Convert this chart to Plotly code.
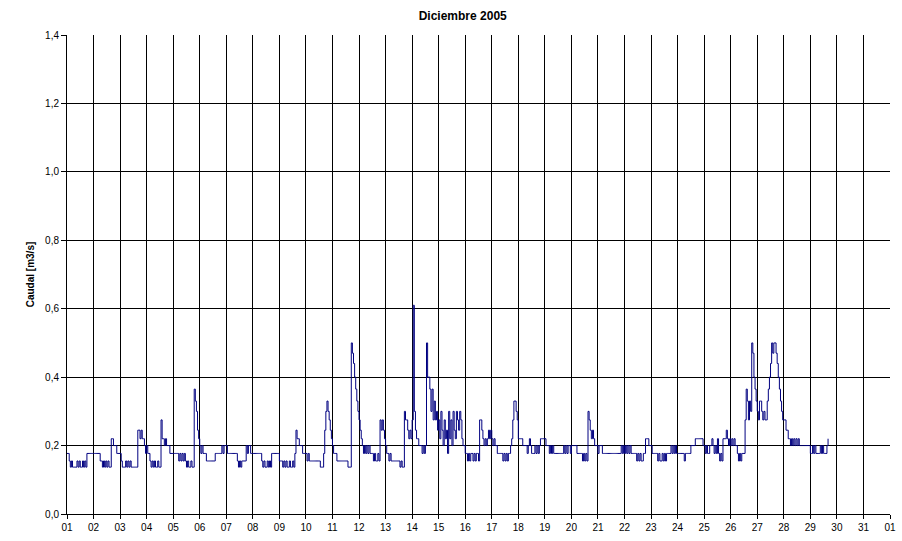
import plotly.graph_objects as go

# Hourly discharge readings (m3/s), December 2005, one list per day (hour 0..23)
d01 = [0.177,0.177,0.155,0.137,0.155,0.137,0.137,0.137,0.137,0.155,0.137,0.155,0.137,0.137,0.155,0.137,0.155,0.137,0.177,0.177,0.177,0.177,0.177,0.177]
d02 = [0.177,0.177,0.177,0.177,0.177,0.177,0.155,0.155,0.137,0.155,0.137,0.155,0.137,0.155,0.137,0.137,0.22,0.22,0.2,0.2,0.2,0.177,0.177,0.177]
d03 = [0.177,0.155,0.137,0.137,0.137,0.155,0.137,0.155,0.137,0.155,0.137,0.137,0.137,0.137,0.137,0.137,0.245,0.245,0.22,0.245,0.22,0.22,0.2,0.177]
d04 = [0.2,0.177,0.177,0.155,0.137,0.155,0.137,0.155,0.137,0.137,0.155,0.137,0.137,0.275,0.22,0.22,0.2,0.22,0.2,0.2,0.2,0.177,0.177,0.177]
d05 = [0.177,0.177,0.177,0.177,0.177,0.155,0.177,0.155,0.177,0.155,0.177,0.155,0.137,0.155,0.137,0.137,0.155,0.137,0.137,0.365,0.33,0.3,0.245,0.22]
d06 = [0.2,0.177,0.2,0.177,0.177,0.177,0.155,0.155,0.155,0.155,0.155,0.155,0.155,0.155,0.177,0.177,0.177,0.177,0.177,0.177,0.2,0.177,0.2,0.2]
d07 = [0.2,0.177,0.177,0.177,0.177,0.177,0.177,0.177,0.177,0.177,0.155,0.137,0.155,0.137,0.155,0.155,0.155,0.155,0.2,0.177,0.2,0.2,0.177,0.177]
d08 = [0.177,0.177,0.177,0.177,0.177,0.177,0.177,0.177,0.155,0.137,0.155,0.137,0.137,0.155,0.137,0.155,0.137,0.177,0.177,0.177,0.177,0.177,0.177,0.177]
d09 = [0.155,0.155,0.155,0.137,0.155,0.137,0.155,0.137,0.137,0.155,0.137,0.137,0.155,0.137,0.177,0.245,0.22,0.22,0.2,0.2,0.2,0.177,0.177,0.177]
d10 = [0.177,0.155,0.177,0.155,0.155,0.155,0.155,0.155,0.155,0.155,0.155,0.155,0.155,0.137,0.137,0.137,0.177,0.245,0.3,0.33,0.3,0.275,0.245,0.22]
d11 = [0.2,0.177,0.177,0.177,0.155,0.155,0.155,0.155,0.155,0.155,0.155,0.155,0.155,0.155,0.137,0.137,0.137,0.5,0.47,0.44,0.4,0.365,0.33,0.3]
d12 = [0.275,0.245,0.22,0.2,0.177,0.2,0.177,0.2,0.177,0.2,0.177,0.177,0.177,0.155,0.177,0.155,0.155,0.177,0.155,0.275,0.245,0.275,0.245,0.22]
d13 = [0.2,0.177,0.177,0.155,0.177,0.155,0.155,0.155,0.155,0.155,0.155,0.155,0.155,0.137,0.155,0.137,0.137,0.3,0.275,0.275,0.245,0.22,0.245,0.22]
d14 = [0.275,0.61,0.3,0.245,0.22,0.22,0.2,0.2,0.2,0.177,0.2,0.177,0.2,0.5,0.4,0.4,0.365,0.3,0.365,0.275,0.33,0.275,0.3,0.245]
d15 = [0.275,0.22,0.3,0.245,0.2,0.275,0.22,0.245,0.177,0.3,0.22,0.275,0.2,0.3,0.245,0.22,0.3,0.275,0.245,0.3,0.275,0.22,0.2,0.2]
d16 = [0.177,0.177,0.155,0.177,0.155,0.177,0.177,0.155,0.177,0.155,0.177,0.177,0.155,0.275,0.275,0.245,0.22,0.2,0.22,0.2,0.22,0.245,0.22,0.245]
d17 = [0.22,0.2,0.22,0.2,0.2,0.177,0.177,0.177,0.177,0.177,0.155,0.177,0.155,0.177,0.155,0.177,0.177,0.2,0.22,0.275,0.33,0.33,0.3,0.275]
d18 = [0.22,0.22,0.22,0.22,0.2,0.2,0.2,0.2,0.177,0.2,0.22,0.2,0.177,0.177,0.177,0.2,0.177,0.2,0.177,0.2,0.22,0.22,0.22,0.22]
d19 = [0.22,0.2,0.2,0.2,0.177,0.2,0.177,0.2,0.177,0.177,0.177,0.177,0.177,0.177,0.177,0.177,0.177,0.2,0.177,0.2,0.177,0.2,0.2,0.177]
d20 = [0.2,0.2,0.2,0.2,0.2,0.177,0.177,0.177,0.177,0.177,0.155,0.177,0.155,0.177,0.155,0.3,0.275,0.245,0.22,0.245,0.22,0.2,0.2,0.2]
d21 = [0.177,0.2,0.2,0.2,0.177,0.177,0.177,0.177,0.177,0.177,0.177,0.177,0.177,0.177,0.177,0.177,0.177,0.177,0.177,0.177,0.177,0.2,0.177,0.2]
d22 = [0.177,0.2,0.177,0.2,0.177,0.2,0.177,0.177,0.177,0.177,0.177,0.155,0.177,0.155,0.177,0.155,0.155,0.177,0.177,0.22,0.22,0.22,0.2,0.2]
d23 = [0.2,0.177,0.177,0.177,0.177,0.177,0.155,0.177,0.155,0.155,0.177,0.155,0.177,0.155,0.177,0.177,0.177,0.177,0.2,0.177,0.2,0.177,0.2,0.177]
d24 = [0.177,0.177,0.177,0.177,0.177,0.177,0.155,0.177,0.177,0.177,0.177,0.177,0.2,0.2,0.2,0.2,0.22,0.22,0.22,0.22,0.22,0.22,0.22,0.2]
d25 = [0.2,0.177,0.2,0.177,0.177,0.2,0.2,0.22,0.2,0.177,0.2,0.177,0.22,0.177,0.155,0.177,0.155,0.22,0.22,0.22,0.245,0.22,0.2,0.22]
d26 = [0.2,0.22,0.2,0.22,0.2,0.2,0.177,0.155,0.177,0.155,0.177,0.177,0.177,0.275,0.365,0.33,0.275,0.33,0.3,0.5,0.47,0.4,0.365,0.33]
d27 = [0.3,0.275,0.33,0.33,0.3,0.275,0.3,0.275,0.275,0.33,0.365,0.4,0.44,0.5,0.47,0.5,0.5,0.47,0.44,0.4,0.365,0.33,0.3,0.275]
d28 = [0.275,0.275,0.245,0.245,0.22,0.22,0.2,0.22,0.2,0.22,0.2,0.22,0.2,0.22,0.2,0.2,0.2,0.2,0.2,0.2,0.2,0.2,0.2,0.2]
d29 = [0.177,0.177,0.2,0.177,0.2,0.177,0.177,0.177,0.177,0.2,0.177,0.2,0.177,0.177,0.177,0.2,0.22]

days = [d01,d02,d03,d04,d05,d06,d07,d08,d09,d10,d11,d12,d13,d14,d15,
        d16,d17,d18,d19,d20,d21,d22,d23,d24,d25,d26,d27,d28,d29]

tick_labels = ["01","02","03","04","05","06","07","08","09","10","11","12","13","14","15","16",
               "17","18","19","20","21","22","23","24","25","26","27","28","29","30","31","01"]
y_ticks = [0.0,0.2,0.4,0.6,0.8,1.0,1.2,1.4]

# time in days since 1 Dec 00:00
x, y = [], []
for di, vals in enumerate(days):
    for h, v in enumerate(vals):
        x.append(di + h / 24.0)
        y.append(v)

fig = go.Figure()
fig.add_trace(go.Scatter(x=x, y=y, mode="lines", line=dict(color="#000080", width=1, shape="hv"),
                         hoverinfo="skip", showlegend=False))

font = "Arial, Liberation Sans, sans-serif"
fig.update_layout(
    width=902, height=541,
    margin=dict(l=67, r=12, t=35, b=27),
    paper_bgcolor="white", plot_bgcolor="white",
    separators=",.",
    font=dict(family=font, size=10, color="black"),
    title=dict(text="<b>Diciembre 2005</b>", x=0.513, xref="container", xanchor="center",
               y=1 - 16 / 541, yref="container", yanchor="middle",
               font=dict(family=font, size=12, color="black")),
    showlegend=False,
)
fig.update_xaxes(
    range=[0, 31], tickmode="array", tickvals=list(range(32)), ticktext=tick_labels,
    showgrid=True, gridcolor="#000000", gridwidth=1,
    showline=True, linecolor="#000000", linewidth=1,
    ticks="outside", ticklen=4, tickcolor="#000000",
    zeroline=False, automargin=False, ticklabeloverflow="allow",
    tickfont=dict(family=font, size=10, color="black"),
)
fig.update_yaxes(
    range=[0, 1.4], tickmode="array", tickvals=y_ticks, tickformat=".1f",
    showgrid=True, gridcolor="#000000", gridwidth=1,
    showline=True, linecolor="#000000", linewidth=1,
    ticks="outside", ticklen=5, tickcolor="#000000",
    zeroline=False, automargin=False,
    tickfont=dict(family=font, size=10, color="black"),
    title=dict(text="<b>Caudal [m3/s]</b>", standoff=8, font=dict(family=font, size=10, color="black")),
)

fig.write_html("out.html", config={"displayModeBar": False},
               post_script="document.body.style.margin='0';document.body.style.padding='0';")
